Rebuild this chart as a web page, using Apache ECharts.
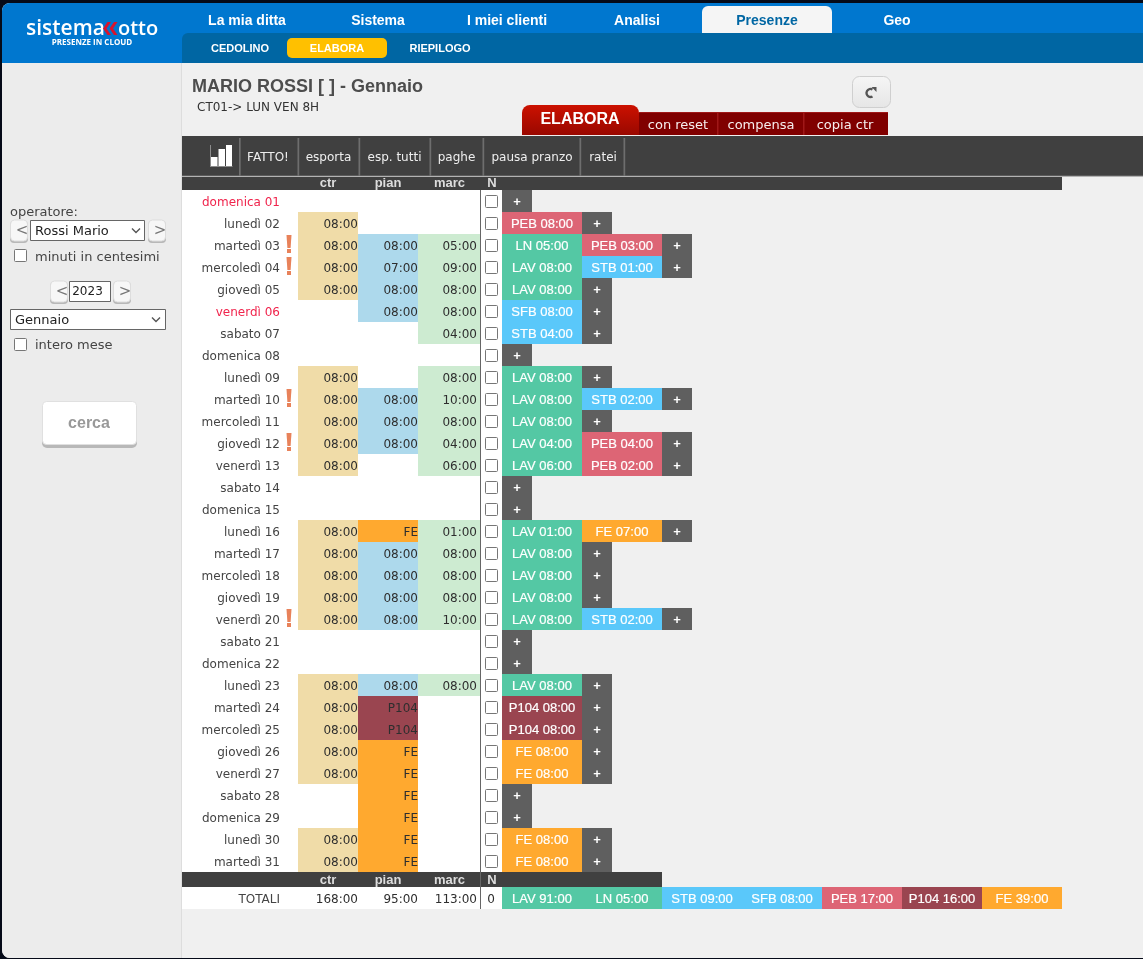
<!DOCTYPE html>
<html lang="it"><head><meta charset="utf-8"><title>Presenze</title>
<style>html,body{margin:0;padding:0;background:#050a18;overflow:hidden}#c{width:1143px;height:959px}</style>
<script src="https://cdn.jsdelivr.net/npm/echarts@6/dist/echarts.min.js"></script></head>
<body><div id="c"></div>
<script>
const days = ['domenica 01','lunedì 02','martedì 03','mercoledì 04','giovedì 05','venerdì 06','sabato 07','domenica 08','lunedì 09','martedì 10','mercoledì 11','giovedì 12','venerdì 13','sabato 14','domenica 15','lunedì 16','martedì 17','mercoledì 18','giovedì 19','venerdì 20','sabato 21','domenica 22','lunedì 23','martedì 24','mercoledì 25','giovedì 26','venerdì 27','sabato 28','domenica 29','lunedì 30','martedì 31'];
const holidays = ['domenica 01','venerdì 06'];
const alertDays = ['martedì 03','mercoledì 04','martedì 10','giovedì 12','venerdì 20'];
const columns = ['ctr','pian','marc'];
const ctr = ['','08:00','08:00','08:00','08:00','','','','08:00','08:00','08:00','08:00','08:00','','','08:00','08:00','08:00','08:00','08:00','','','08:00','08:00','08:00','08:00','08:00','','','08:00','08:00'];
const pian = ['','','08:00','07:00','08:00','08:00','','','','08:00','08:00','08:00','','','','FE','08:00','08:00','08:00','08:00','','','08:00','P104','P104','FE','FE','FE','FE','FE','FE'];
const marc = ['','','05:00','09:00','08:00','08:00','04:00','','08:00','10:00','08:00','04:00','06:00','','','01:00','08:00','08:00','08:00','10:00','','','08:00','','','','','','','',''];
const entries = [[],['PEB 08:00'],['LN 05:00','PEB 03:00'],['LAV 08:00','STB 01:00'],['LAV 08:00'],['SFB 08:00'],['STB 04:00'],[],['LAV 08:00'],['LAV 08:00','STB 02:00'],['LAV 08:00'],['LAV 04:00','PEB 04:00'],['LAV 06:00','PEB 02:00'],[],[],['LAV 01:00','FE 07:00'],['LAV 08:00'],['LAV 08:00'],['LAV 08:00'],['LAV 08:00','STB 02:00'],[],[],['LAV 08:00'],['P104 08:00'],['P104 08:00'],['FE 08:00'],['FE 08:00'],[],[],['FE 08:00'],['FE 08:00']];
const totalHours = ['168:00','95:00','113:00'];
const totalN = ['0'];
const totalEntries = ['LAV 91:00','LN 05:00','STB 09:00','SFB 08:00','PEB 17:00','P104 16:00','FE 39:00'];
const totalLabel = ['TOTALI'];
const navItems = ['La mia ditta','Sistema','I miei clienti','Analisi','Presenze','Geo'];
const subNavItems = ['CEDOLINO','ELABORA','RIEPILOGO'];
const toolbarItems = ['FATTO!','esporta','esp. tutti','paghe','pausa pranzo','ratei'];
const elaboraItems = ['con reset','compensa','copia ctr'];

const DJ='"DejaVu Sans"', LS='"Liberation Sans"';
const codeColor = {LAV:'#54c8a4',LN:'#54c8a4',PEB:'#dd6575',STB:'#5ac8fa',SFB:'#5ac8fa',P104:'#9a4550',FE:'#ffa92f'};
const colFill = ['#f0dca8','#add9ec','#cdebd1'];
const PLUS='#5f5f5f', CELLTXT='#2e2e2e';
const colValues=[ctr,pian,marc];

// ---- background furniture drawn as ECharts graphic elements
const gfx=[];
const push=e=>{e.z=-5000+gfx.length;e.silent=true;gfx.push(e);return e;};
const R=(x,y,w,h,fill,r,stroke,lw)=>push({type:'rect',shape:{x,y,width:w,height:h,r:r||0},style:{fill,stroke:stroke||null,lineWidth:lw||0}});
const T=(text,x,y,font,fill,align)=>push({type:'text',style:{text,x,y:y+(font.includes('DejaVu')?1.5:1),font,fill,align:align||'center',verticalAlign:'middle'}});
const P=(points,fill)=>push({type:'polygon',shape:{points},style:{fill}});
const L=(points,stroke,lw)=>push({type:'polyline',shape:{points},style:{stroke,lineWidth:lw||1,fill:null}});
const V=(c1,c2)=>({type:'linear',x:0,y:0,x2:0,y2:1,colorStops:[{offset:0,color:c1},{offset:1,color:c2}]});

R(2,3,1141,955,'#f0f0f0',[8,0,0,8]);
R(2,63,179,895,'#ececec',[0,0,0,8]);
R(181,63,1,895,'#dddddd');
R(2,3,1141,60,'#0077cf',[8,0,0,0]);
R(182,33,961,30,'#0066a3',[6,0,0,0]);
// logo
T('sistema',26,28.5,'600 21px "Open Sans"','#ffffff','left');
P([[107.5,22],[111,22],[106.5,28.5],[111,35],[107.5,35],[103,28.5]],'#d9142c');
P([[114,22],[117.5,22],[113,28.5],[117.5,35],[114,35],[109.5,28.5]],'#d9142c');
T('otto',118,28.5,'600 20px "Open Sans"','#ffffff','left');
T('PRESENZE IN CLOUD',92,42,'700 8px "Open Sans"','#ffffff');
// nav
[247,378,507,637,767,897].forEach((x,i)=>{
  if(i===4) R(702,6,130,27,'#f5f5f5',[6,6,0,0]);
  T(navItems[i],x,i===4?20.5:20,'700 14px '+LS,i===4?'#0066a3':'#ffffff');
});
R(287,38,100,20,'#ffc000',5);
[240,337,440].forEach((x,i)=>T(subNavItems[i],x,47.5,'700 11px '+LS,'#ffffff'));
// title
T('MARIO ROSSI [ ] - Gennaio',192,86,'700 18px '+LS,'#4d4d4d','left');
T('CT01-> LUN VEN 8H',197,106,'12px '+DJ,'#333333','left');
// refresh
R(852.5,76.5,38,31,V('#f6f6f6','#e6e6e6'),7,'#cfcfcf',1);
push({type:'arc',shape:{cx:870.5,cy:93,r:4,startAngle:-Math.PI/3,endAngle:Math.PI/3,clockwise:false},style:{stroke:'#555555',lineWidth:2.4,fill:null}});
P([[871.5,87],[876.5,87],[876.5,92]],'#555555');
// elabora tabs
R(522,105,117,30,V('#cc1100','#990800'),[8,8,0,0]);
T('ELABORA',580,119,'700 16px '+LS,'#ffffff');
R(639,112,249,23,'#800000');
[717,803].forEach(x=>R(x,112,1.5,23,'#a01818'));
R(639,112,249,1,'#a01818');
[678,761,845].forEach((x,i)=>T(elaboraItems[i],x,124,'13px '+DJ,'#f6eeee'));
// toolbar
R(182,136,961,40,'#404040');
R(182,175.5,961,1,'#777777');
R(182,177,880,13,'#404040');
[239,297.5,358.5,429.5,482.5,579.5,623.5].forEach(x=>R(x,138,1.7,38,'#6e6e6e'));
[268,328.5,394.5,456.5,532,603].forEach((x,i)=>T(toolbarItems[i],x,156,'12px '+DJ,'#eeeeee'));
// toolbar bars icon
R(210,145,1,21.5,'#8c8c8c');R(210,166,22.5,1,'#8c8c8c');
R(211,157,6.5,9,'#ffffff');R(218.5,149,6.5,17,'#ffffff');R(226,145,6,21,'#ffffff');
// table backgrounds
R(182,190,320,682,'#ffffff');
R(182,872,480,15,'#404040');
R(182,887,320,22,'#ffffff');
R(480,190,1,719,'#666666');
// left panel
const btn=(x,y,w,h,s)=>{R(x,y+1,w,h,'#b8b8b8',4);R(x+.5,y,w-1,h-1,'#f7f7f7',4,'#dddddd',1);T(s,x+w/2+3,y+h/2-1,'15px '+DJ,'#777777');};
const sel=(x,y,w,h,s,cx)=>{R(x+.5,y+.5,w-1,h-1,'#ffffff',0,'#666666',1);T(s,x+5,y+h/2,'13px '+DJ,'#222222','left');L([[cx-4,y+h/2-2],[cx,y+h/2+2],[cx+4,y+h/2-2]],'#555555',1.4);};
const chk=(x,y)=>R(x+.5,y+.5,12,12,'#ffffff',1,'#767676',1);
T('operatore:',10,211,'13px '+DJ,'#444444','left');
btn(10,220,18,22,'<');
sel(30,220,115,21,'Rossi Mario',136);
btn(148,220,18,22,'>');
chk(14,249);
T('minuti in centesimi',35,256,'13px '+DJ,'#444444','left');
btn(50,281,18,22,'<');
R(69.5,281.5,41,20,'#ffffff',0,'#666666',1);T('2023',87.5,290,'12px '+DJ,'#222222');
btn(113,281,18,22,'>');
sel(10,309,156,21,'Gennaio',156);
chk(14,338);
T('intero mese',35,344,'13px '+DJ,'#444444','left');
R(42,404,95,44,'#b8b8b8',5);
R(42.5,401.5,94,43,'#ffffff',4,'#e0e0e0',1);
T('cerca',89,423,'700 16px '+LS,'#999999');

// ---- axes
const HEAD={fontFamily:LS,fontSize:13,fontWeight:700,color:'#dddddd'};
const bandAxis=(i,data,show)=>({type:'category',gridIndex:i,data,position:'top',show:!!show,
  axisLine:{show:false},axisTick:{show:false},splitLine:{show:false},
  axisLabel:Object.assign({interval:0,margin:0,formatter:v=>v==='marc'?'{m|marc}':v,
    rich:{m:Object.assign({padding:[0,0,0,3]},HEAD)}},HEAD)});
const rowAxis=(i,data,show)=>({type:'category',gridIndex:i,data,inverse:true,show:!!show,
  axisLine:{show:false},axisTick:{show:false},splitLine:{show:false},
  axisLabel:{interval:0,margin:18,fontFamily:DJ,fontSize:12,verticalAlign:'top',lineHeight:3,
    color:(v)=>holidays.includes(v)?'#f0244c':'#444444'}});
const slotAxis=i=>({type:'value',gridIndex:i,min:0,max:7,interval:1,show:false});

// ---- renderers
const cellRows=[];const cellTexts=[];
colValues.forEach((arr,c)=>arr.forEach((v,d)=>{if(v){cellRows.push([c,d]);cellTexts.push(v);}}));
const cellColor=(c,t)=>codeColor[t]||colFill[c];
function renderCell(params,api){
  const c=api.value(0),t=cellTexts[params.dataIndex];
  const p=api.coord([c,api.value(1)]),s=api.size([1,1]);
  const x0=p[0]-s[0]/2,x1=p[0]+s[0]/2;
  const extra=c===2?2:0, tx=c===2?x1-1:x1;
  return {type:'group',children:[
    {type:'rect',shape:{x:x0,y:p[1]-s[1]/2,width:s[0]+extra,height:s[1]},style:{fill:cellColor(c,t)}},
    {type:'text',style:{x:tx,y:p[1]+1.5,text:t,align:'right',verticalAlign:'middle',font:'12px '+DJ,fill:CELLTXT}}]};
}
function renderTotalHours(params,api){
  const c=api.value(0),p=api.coord([c,0]),s=api.size([1,1]);
  return {type:'text',style:{x:c===2?p[0]+s[0]/2-1:p[0]+s[0]/2,y:p[1]+1.5,text:totalHours[c],align:'right',verticalAlign:'middle',font:'12px '+DJ,fill:CELLTXT}};
}
function renderCheck(params,api){
  const p=api.coord([0,api.value(1)]);
  return {type:'rect',shape:{x:p[0]-6.5,y:p[1]-5.5,width:12,height:12,r:1},style:{fill:'#ffffff',stroke:'#767676',lineWidth:1}};
}
function renderN(params,api){
  const p=api.coord([0,0]);
  return {type:'text',style:{x:p[0]-1,y:p[1]+1.5,text:totalN[0],align:'center',verticalAlign:'middle',font:'12px '+DJ,fill:CELLTXT}};
}
const entryRows=[];const entryLabels=[];
entries.forEach((list,d)=>{list.forEach((e,i)=>{entryRows.push([i,d]);entryLabels.push(e);});entryRows.push([list.length,d]);entryLabels.push('+');});
function entryShape(label,p,s){
  const plus=label==='+';
  const w=plus?s[0]*0.375:s[0];
  const code=label.split(' ')[0];
  return {type:'group',children:[
    {type:'rect',shape:{x:p[0],y:p[1]-s[1]/2,width:w,height:s[1]},style:{fill:plus?PLUS:codeColor[code]}},
    {type:'text',style:{x:p[0]+w/2,y:p[1]+1,text:label,align:'center',verticalAlign:'middle',font:(plus?'700 ':'')+'13px '+LS,fill:'#ffffff',stroke:plus?null:'#ffffff',lineWidth:plus?0:0.2}}]};
}
function renderEntry(params,api){
  const p=api.coord([api.value(0),api.value(1)]),s=api.size([1,1]);
  return entryShape(entryLabels[params.dataIndex],p,s);
}
function renderTotalEntry(params,api){
  const p=api.coord([api.value(0),0]),s=api.size([1,1]);
  return entryShape(totalEntries[params.dataIndex],p,s);
}
function renderAlert(params,api){
  const p=api.coord([0,api.value(1)]),t=p[1]-10,x=p[0]+1;
  return {type:'group',children:[
    {type:'polygon',shape:{points:[[x-2.5,t],[x+2.5,t],[x+1.6,t+13],[x-1.6,t+13]]},style:{fill:'#e8825a'}},
    {type:'rect',shape:{x:x-2,y:t+14,width:4,height:4},style:{fill:'#e8825a'}}]};
}
const custom=(idx,renderItem,data)=>({type:'custom',xAxisIndex:idx,yAxisIndex:idx,coordinateSystem:'cartesian2d',silent:true,clip:false,
  encode:{x:0,y:1},renderItem,data});

const ROW_TOP=190,ROW_H=682,TOT_TOP=887,TOT_H=22;
const option={
  animation:false,backgroundColor:'transparent',
  graphic:{elements:gfx},
  grid:[
    {left:298,top:ROW_TOP,width:180,height:ROW_H},
    {left:482,top:ROW_TOP,width:20,height:ROW_H},
    {left:502,top:ROW_TOP,width:560,height:ROW_H},
    {left:298,top:TOT_TOP,width:180,height:TOT_H},
    {left:482,top:TOT_TOP,width:20,height:TOT_H},
    {left:502,top:TOT_TOP,width:560,height:TOT_H},
    {left:282,top:ROW_TOP,width:12,height:ROW_H}
  ],
  xAxis:[
    bandAxis(0,columns,true),bandAxis(1,['N'],true),slotAxis(2),
    bandAxis(3,columns,true),bandAxis(4,['N'],true),slotAxis(5),
    bandAxis(6,['!'],false)
  ],
  yAxis:[
    rowAxis(0,days,true),rowAxis(1,days),rowAxis(2,days),
    rowAxis(3,totalLabel,true),rowAxis(4,totalLabel),rowAxis(5,totalLabel),
    rowAxis(6,days)
  ],
  series:[
    custom(0,renderCell,cellRows),
    custom(1,renderCheck,days.map((d,i)=>[0,i])),
    custom(2,renderEntry,entryRows),
    custom(3,renderTotalHours,totalHours.map((v,i)=>[i,0])),
    custom(4,renderN,[[0,0]]),
    custom(5,renderTotalEntry,totalEntries.map((v,i)=>[i,0])),
    custom(6,renderAlert,alertDays.map(d=>[0,days.indexOf(d)]))
  ]
};
echarts.init(document.getElementById('c')).setOption(option);
</script></body></html>
